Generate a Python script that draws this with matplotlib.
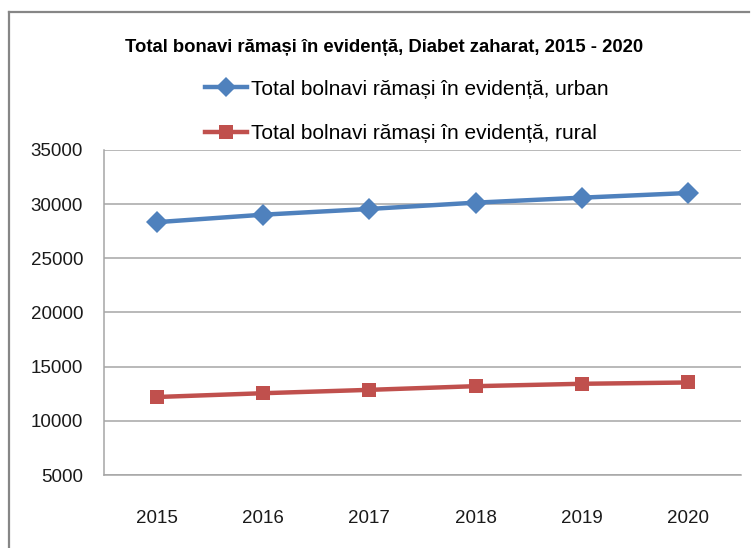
import matplotlib
matplotlib.use("Agg")
import matplotlib.pyplot as plt
from matplotlib.lines import Line2D

plt.rcParams["font.family"] = ["Liberation Sans", "DejaVu Sans"]

years = ["2015", "2016", "2017", "2018", "2019", "2020"]
urban = [28340, 29030, 29560, 30140, 30600, 31030]
rural = [12200, 12550, 12860, 13200, 13420, 13540]
y_ticks = [5000, 10000, 15000, 20000, 25000, 30000, 35000]

title = "Total bonavi rămași în evidență, Diabet zaharat, 2015 - 2020"
label_urban = "Total bolnavi rămași în evidență, urban"
label_rural = "Total bolnavi rămași în evidență, rural"

blue = "#4F81BD"
red = "#C0504D"
grid = "#A6A6A6"

fig = plt.figure(figsize=(7.52, 5.48), dpi=100)

# chart frame: only the left and top edges fall inside the image
frame_x = 9 / 752
frame_y = 1 - 12 / 548
fig.add_artist(Line2D([frame_x, frame_x], [0, frame_y], transform=fig.transFigure,
                      color="#868686", linewidth=1.6))
fig.add_artist(Line2D([frame_x, 749 / 752], [frame_y, frame_y], transform=fig.transFigure,
                      color="#868686", linewidth=1.6))

ax = fig.add_axes([104 / 752, 1 - 475 / 548, (741 - 104) / 752, (475 - 150) / 548])
x = list(range(len(years)))

ax.plot(x, urban, color=blue, linewidth=3.2, marker="D", markersize=11,
        markeredgewidth=0, label=label_urban, zorder=3)
ax.plot(x, rural, color=red, linewidth=3.2, marker="s", markersize=10.5,
        markeredgewidth=0, label=label_rural, zorder=3)

ax.set_ylim(5000, 35000)
ax.set_yticks(y_ticks)
ax.set_xlim(-0.5, 5.5)
ax.set_xticks(x)
ax.set_xticklabels(years)
ax.tick_params(axis="both", length=0, labelsize=13.5, colors="#1a1a1a")
ax.tick_params(axis="y", pad=15)
ax.tick_params(axis="x", pad=25)
ax.yaxis.grid(True, color=grid, linewidth=1.1)
ax.set_axisbelow(True)
for side in ["top", "right"]:
    ax.spines[side].set_visible(False)
for side in ["left", "bottom"]:
    ax.spines[side].set_color(grid)
    ax.spines[side].set_linewidth(1.1)

fig.text(384 / 752, 1 - 48 / 548, title, ha="center", va="center",
         fontsize=13.3, fontweight="bold")

leg = fig.legend(loc="center left", bbox_to_anchor=(205 / 752, 1 - 111.5 / 548),
                 frameon=False, fontsize=15, handlelength=2.0,
                 handletextpad=0.2, labelspacing=1.22, borderaxespad=0,
                 borderpad=0, markerscale=0.95)

fig.savefig("out.png", dpi=100)
